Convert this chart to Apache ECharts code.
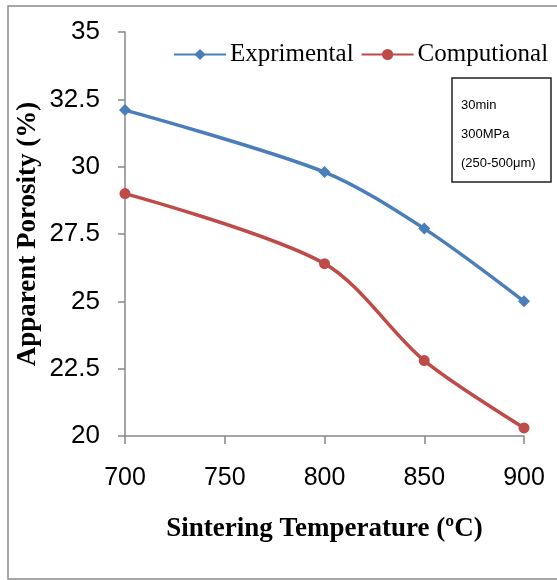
<!DOCTYPE html>
<html>
<head>
<meta charset="utf-8">
<script src="https://cdn.jsdelivr.net/npm/echarts@6/dist/echarts.min.js"></script>
<style>
  html, body { margin: 0; padding: 0; background: #fff; }
  #chart { width: 557px; height: 580px; }
</style>
</head>
<body>
<div id="chart"></div>
<script>
// sintering temperature (ºC)
const temps = [700, 800, 850, 900]
// apparent porosity (%)
const exprimental = [32.1, 29.8, 27.7, 25.0]
const computional = [29.0, 26.4, 22.8, 20.3]
const seriesNames = ['Exprimental', 'Computional']
const insetLines = ['30min', '300MPa', '(250-500μm)']

const chart = echarts.init(document.getElementById('chart'))

const toPairs = vals => temps.map((t, i) => [t, vals[i]])

const option = {
  animation: false,
  grid: { left: 125, right: 33, top: 32, bottom: 144, outerBoundsMode: 'none' },
  legend: {
    data: seriesNames,
    left: 168,
    top: 37,
    width: 430,
    itemWidth: 52,
    itemHeight: 14,
    itemGap: 7,
    textStyle: { fontFamily: 'Liberation Serif', fontSize: 25, color: '#000', padding: [0, 0, 0, -1] }
  },
  xAxis: {
    type: 'value',
    min: 700,
    max: 900,
    interval: 50,
    name: 'Sintering Temperature (ºC)',
    nameLocation: 'middle',
    nameGap: 80,
    nameMoveOverlap: false,
    nameTextStyle: { fontFamily: 'Liberation Serif', fontSize: 27, fontWeight: 'bold', color: '#000' },
    axisLine: { lineStyle: { color: '#888', width: 1.5 } },
    axisTick: { show: true, length: 8, lineStyle: { color: '#888', width: 1.5 } },
    axisLabel: { margin: 30, fontFamily: 'Liberation Sans', fontSize: 25, color: '#000' },
    splitLine: { show: false }
  },
  yAxis: {
    type: 'value',
    min: 20,
    max: 35,
    interval: 2.5,
    name: 'Apparent Porosity (%)',
    nameLocation: 'middle',
    nameGap: 83,
    nameMoveOverlap: false,
    nameRotate: 90,
    nameTextStyle: { fontFamily: 'Liberation Serif', fontSize: 27, fontWeight: 'bold', color: '#000' },
    axisLine: { show: true, lineStyle: { color: '#888', width: 1.5 } },
    axisTick: { show: true, length: 7, lineStyle: { color: '#888', width: 1.5 } },
    axisLabel: { margin: 25, fontFamily: 'Liberation Sans', fontSize: 26, color: '#000' },
    splitLine: { show: false }
  },
  series: [
    {
      name: seriesNames[0],
      type: 'line',
      data: toPairs(exprimental),
      smooth: 0.3,
      symbol: 'diamond',
      symbolSize: 12,
      lineStyle: { color: '#4a7ebb', width: 3.5 },
      itemStyle: { color: '#4a7ebb' }
    },
    {
      name: seriesNames[1],
      type: 'line',
      data: toPairs(computional),
      smooth: 0.3,
      symbol: 'circle',
      symbolSize: 11,
      lineStyle: { color: '#be4b48', width: 3.5 },
      itemStyle: { color: '#be4b48' }
    }
  ],
  graphic: [
    {
      type: 'rect',
      shape: { x: 8, y: 6, width: 600, height: 573 },
      style: { fill: 'none', stroke: '#8a8a8a', lineWidth: 1.5 },
      silent: true
    },
    {
      type: 'rect',
      shape: { x: 452, y: 78, width: 99, height: 104 },
      style: { fill: '#fff', stroke: '#222', lineWidth: 1.5 },
      z: 10
    },
    {
      type: 'text',
      left: 461,
      top: 91,
      z: 11,
      style: {
        text: insetLines.join('\n'),
        fontFamily: 'Liberation Sans Narrow, Liberation Sans',
        fontSize: 13,
        lineHeight: 29,
        fill: '#000'
      }
    }
  ]
}

chart.setOption(option)
window.addEventListener('resize', () => chart.resize())
</script>
</body>
</html>
